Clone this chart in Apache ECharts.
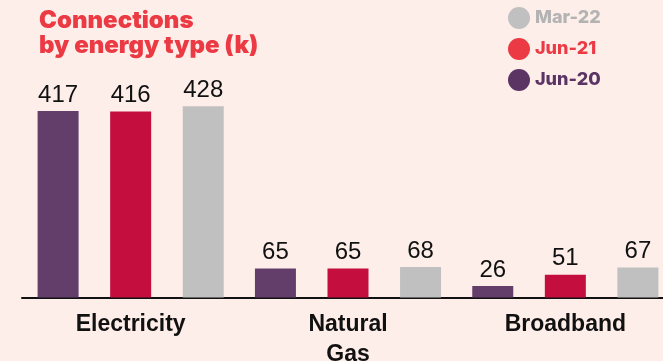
<!DOCTYPE html>
<html>
<head>
<meta charset="utf-8">
<script src="https://cdn.jsdelivr.net/npm/echarts@6/dist/echarts.min.js"></script>
<style>
  html, body { margin: 0; padding: 0; background: #fdeee9; }
  #chart { width: 663px; height: 361px; }
</style>
</head>
<body>
<div id="chart"></div>
<script>
// Connection counts (thousands) by energy type
const categories = ['Electricity', 'Natural\nGas', 'Broadband'];
const jun20 = [417, 65, 26];
const jun21 = [416, 65, 51];
const mar22 = [428, 68, 67];

const barColors = { 'Jun-20': '#643e6b', 'Jun-21': '#c40e3d', 'Mar-22': '#c0c0c0' };
const legendColors = { 'Jun-20': '#5b3464', 'Jun-21': '#ec3a44', 'Mar-22': '#c0c0c0' };
const legendTextColors = { 'Jun-20': '#5b3464', 'Jun-21': '#ec3a44', 'Mar-22': '#b3b3b3' };

const chart = echarts.init(document.getElementById('chart'));

function makeSeries(name, values) {
  return {
    name: name,
    type: 'bar',
    data: values,
    barWidth: 41,
    barGap: '77%',
    itemStyle: { color: barColors[name] },
    label: {
      show: true,
      position: 'top',
      distance: 4,
      color: '#111',
      fontFamily: 'Liberation Sans, Arial, sans-serif',
      fontSize: 24
    }
  };
}

chart.setOption({
  backgroundColor: '#fdeee9',
  animation: false,
  title: {
    text: 'Connections\nby energy type (k)',
    left: 34,
    top: 3,
    textStyle: {
      fontFamily: 'Inter, sans-serif',
      fontWeight: 900,
      fontSize: 24,
      lineHeight: 25,
      color: '#ec3a44'
    }
  },
  legend: {
    orient: 'vertical',
    left: 503,
    top: 2,
    icon: 'circle',
    itemWidth: 22,
    itemHeight: 22,
    itemGap: 9,
    textStyle: { fontFamily: 'Inter, sans-serif', fontWeight: 800, fontSize: 18 },
    data: ['Mar-22', 'Jun-21', 'Jun-20'].map(n => ({
      name: n,
      itemStyle: { color: legendColors[n] },
      textStyle: { color: legendTextColors[n] }
    }))
  },
  grid: {
    left: 22,
    top: 74,
    width: 652,
    height: 223.5,
    containLabel: false,
    outerBoundsMode: 'none'
  },
  xAxis: {
    type: 'category',
    data: categories,
    axisLine: { show: true, lineStyle: { color: '#111', width: 2 } },
    axisTick: { show: false },
    axisLabel: {
      interval: 0,
      margin: 12,
      color: '#111',
      fontFamily: 'Liberation Sans, Arial, sans-serif',
      fontWeight: 'bold',
      fontSize: 23,
      lineHeight: 30
    }
  },
  yAxis: {
    type: 'value',
    min: 0,
    max: 500,
    show: false,
    splitLine: { show: false }
  },
  series: [
    makeSeries('Jun-20', jun20),
    makeSeries('Jun-21', jun21),
    makeSeries('Mar-22', mar22)
  ]
});
</script>
</body>
</html>
